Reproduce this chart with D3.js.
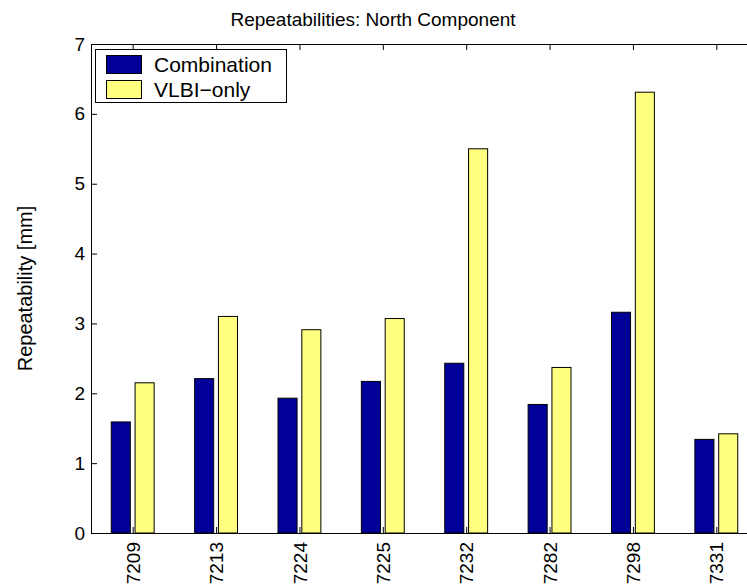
<!DOCTYPE html>
<html>
<head>
<meta charset="utf-8">
<script src="https://cdn.jsdelivr.net/npm/d3@7"></script>
<style>
  html, body { margin: 0; padding: 0; background: #fff; }
  svg { display: block; font-family: "Liberation Sans", Arial, Helvetica, sans-serif; }
</style>
</head>
<body>
<svg id="chart" width="747" height="587"></svg>
<script>
// Station identifiers along the x axis
const stations = ["7209", "7213", "7224", "7225", "7232", "7282", "7298", "7331"];
// North-component repeatabilities in mm
const combination = [1.59, 2.21, 1.93, 2.17, 2.43, 1.84, 3.16, 1.34];
const vlbiOnly    = [2.15, 3.10, 2.91, 3.07, 5.50, 2.37, 6.31, 1.42];
const seriesNames = ["Combination", "VLBI\u2212only"];
const seriesColors = ["#000099", "#ffff80"];
const yTicks = [0, 1, 2, 3, 4, 5, 6, 7];

const svg = d3.select("#chart");
const plotLeft = 91, plotRight = 758, plotTop = 44, plotBottom = 533;

// Group positions 1..n, limits half a slot beyond the outer groups
const x = d3.scaleLinear().domain([0.5, stations.length + 0.5]).range([plotLeft, plotRight]);
const y = d3.scaleLinear().domain([0, 7]).range([plotBottom, plotTop]);

const groupWidth = Math.min(0.8, 2 / (2 + 1.5));
const barWidth = groupWidth / 2 * 0.8;
const offsets = [-groupWidth / 4, groupWidth / 4];

const series = [combination, vlbiOnly];
series.forEach((vals, s) => {
  svg.append("g").selectAll("rect")
    .data(vals)
    .join("rect")
    .attr("x", (d, i) => x(i + 1 + offsets[s] - barWidth / 2))
    .attr("width", x(barWidth) - x(0))
    .attr("y", d => y(d))
    .attr("height", d => y(0) - y(d))
    .attr("fill", seriesColors[s])
    .attr("stroke", "#000")
    .attr("stroke-width", 1);
});

// Axes with inward ticks
const axisStyle = g => {
  g.selectAll("text").attr("font-size", 19).attr("fill", "#000")
    .attr("font-family", "'Liberation Sans', Arial, sans-serif");
  g.selectAll("line").attr("stroke", "#000");
  g.select(".domain").attr("stroke", "#000");
};

svg.append("g")
  .attr("transform", `translate(${plotLeft},0)`)
  .call(d3.axisLeft(y).tickValues(yTicks).tickFormat(d3.format("d")).tickSizeInner(-6).tickSizeOuter(0).tickPadding(6))
  .call(axisStyle);

svg.append("g")
  .attr("transform", `translate(${plotRight},0)`)
  .call(d3.axisRight(y).tickValues(yTicks).tickFormat("").tickSizeInner(-6).tickSizeOuter(0))
  .call(axisStyle);

const xAxis = svg.append("g")
  .attr("transform", `translate(0,${plotBottom})`)
  .call(d3.axisBottom(x).tickValues(d3.range(1, stations.length + 1))
    .tickFormat(i => stations[i - 1]).tickSizeInner(-6).tickSizeOuter(0).tickPadding(10))
  .call(axisStyle);
xAxis.selectAll("text")
  .attr("transform", "rotate(-90)")
  .attr("text-anchor", "end")
  .attr("dy", "0.35em")
  .attr("x", -9)
  .attr("y", 0);

svg.append("g")
  .attr("transform", `translate(0,${plotTop})`)
  .call(d3.axisTop(x).tickValues(d3.range(1, stations.length + 1)).tickFormat("").tickSizeInner(-6).tickSizeOuter(0))
  .call(axisStyle);

// Title and y label
svg.append("text")
  .attr("x", 373).attr("y", 26)
  .attr("text-anchor", "middle")
  .attr("font-size", 19)
  .text("Repeatabilities: North Component");

svg.append("text")
  .attr("transform", `translate(32,${(plotTop + plotBottom) / 2}) rotate(-90)`)
  .attr("text-anchor", "middle")
  .attr("font-size", 20)
  .text("Repeatability [mm]");

// Legend
const legend = svg.append("g");
legend.append("rect")
  .attr("x", 95.5).attr("y", 49.5).attr("width", 191).attr("height", 53)
  .attr("fill", "#fff").attr("stroke", "#000");
seriesNames.forEach((name, s) => {
  const yy = 55 + s * 25;
  legend.append("rect")
    .attr("x", 106.5).attr("y", yy + 0.5).attr("width", 35).attr("height", 18)
    .attr("fill", seriesColors[s]).attr("stroke", "#000");
  legend.append("text")
    .attr("x", 154).attr("y", yy + 16.5)
    .attr("font-size", 21)
    .text(name);
});
</script>
</body>
</html>
